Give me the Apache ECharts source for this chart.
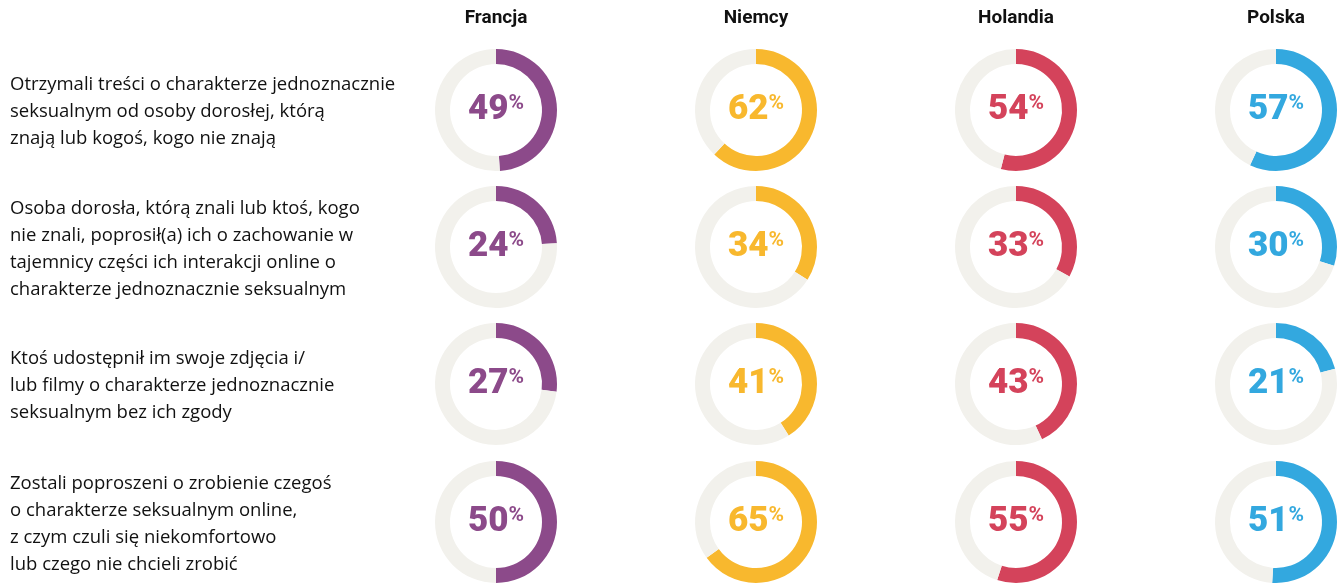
<!DOCTYPE html>
<html>
<head>
<meta charset="utf-8">
<script src="https://cdn.jsdelivr.net/npm/echarts@6/dist/echarts.min.js"></script>
<style>
  html, body { margin: 0; padding: 0; background: #fff; }
  #chart { width: 1341px; height: 583px; }
</style>
</head>
<body>
<div id="chart"></div>
<script>
// kraje (kolumny)
var countries = ['Francja', 'Niemcy', 'Holandia', 'Polska'];
var colors = ['#8c4a8a', '#f8b82e', '#d4435b', '#33a8df'];

// pytania (wiersze)
var questions = [
    'Otrzymali treści o charakterze jednoznacznie\nseksualnym od osoby dorosłej, którą\nznają lub kogoś, kogo nie znają',
    'Osoba dorosła, którą znali lub ktoś, kogo\nnie znali, poprosił(a) ich o zachowanie w\ntajemnicy części ich interakcji online o\ncharakterze jednoznacznie seksualnym',
    'Ktoś udostępnił im swoje zdjęcia i/\nlub filmy o charakterze jednoznacznie\nseksualnym bez ich zgody',
    'Zostali poproszeni o zrobienie czegoś\no charakterze seksualnym online,\nz czym czuli się niekomfortowo\nlub czego nie chcieli zrobić'
];

// wartości w % (kolejność wierszy jak w questions)
var francja = [49, 24, 27, 50];
var niemcy = [62, 34, 41, 65];
var holandia = [54, 33, 43, 55];
var polska = [57, 30, 21, 51];
var values = [francja, niemcy, holandia, polska];

var colX = [496, 756, 1016, 1276];
var rowY = [110, 247, 384, 522];

var myChart = echarts.init(document.getElementById('chart'));

var series = [];
var graphic = [];

for (var c = 0; c < countries.length; c++) {
    // nagłówek kolumny
    graphic.push({
        type: 'text',
        style: {
            text: countries[c],
            x: colX[c], y: 18,
            fill: '#111',
            font: 'bold 19px Roboto, sans-serif',
            align: 'center',
            verticalAlign: 'middle'
        }
    });
    for (var r = 0; r < questions.length; r++) {
        var v = values[c][r];
        series.push({
            type: 'pie',
            center: [colX[c], rowY[r]],
            radius: [46, 61],
            startAngle: 90,
            clockwise: true,
            silent: true,
            emphasis: { disabled: true },
            labelLine: { show: false },
            data: [{
                    value: v,
                    itemStyle: { color: colors[c] },
                    label: {
                        show: true,
                        position: 'center',
                        formatter: '{a|' + v + '}{b|%}',
                        rich: {
                            a: {
                                fontFamily: 'Roboto',
                                fontWeight: 900,
                                fontSize: 35,
                                color: colors[c]
                            },
                            b: {
                                fontFamily: 'Roboto',
                                fontWeight: 'bold',
                                fontSize: 21,
                                color: colors[c],
                                padding: [0, 0, 12, 0]
                            }
                        }
                    }
                },
                {
                    value: 100 - v,
                    itemStyle: { color: '#f2f1ec' },
                    label: { show: false }
                }
            ]
        });
    }
}

// opisy wierszy
for (var r = 0; r < questions.length; r++) {
    graphic.push({
        type: 'text',
        style: {
            text: questions[r],
            x: 10, y: rowY[r] + 2,
            fill: '#111',
            font: '18.5px "Open Sans", sans-serif',
            lineHeight: 27,
            align: 'left',
            verticalAlign: 'middle'
        }
    });
}

myChart.setOption({
    animation: false,
    series: series,
    graphic: graphic
});
</script>
</body>
</html>
